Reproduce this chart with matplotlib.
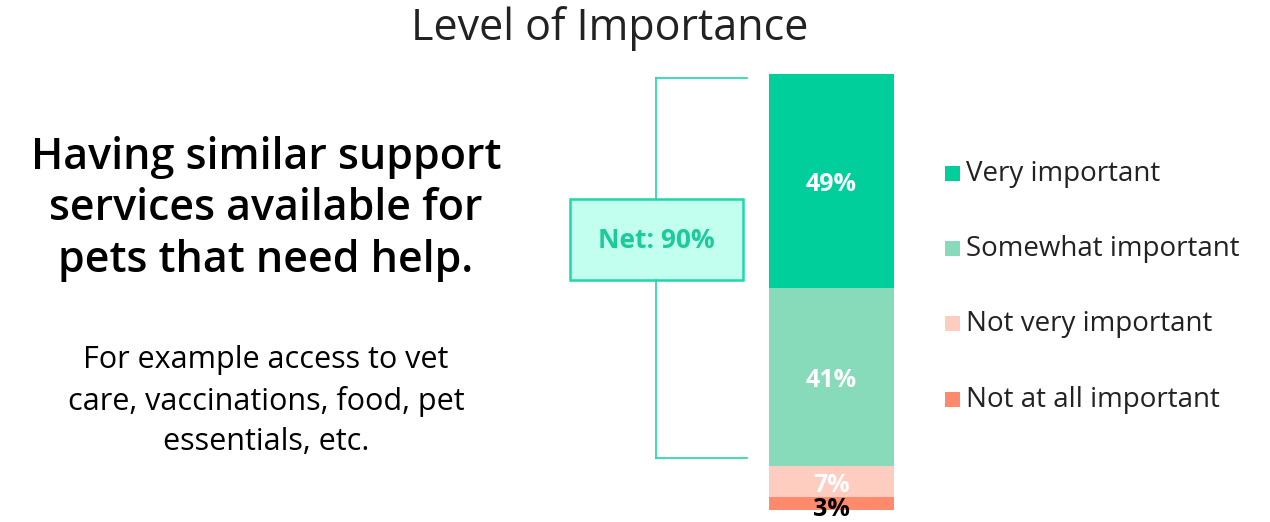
import matplotlib.pyplot as plt
from matplotlib.patches import Rectangle
from matplotlib.lines import Line2D

plt.rcParams['font.family'] = ['Open Sans', 'DejaVu Sans']

categories = ['Very important', 'Somewhat important', 'Not very important', 'Not at all important']
values = [49, 41, 7, 3]
colors = ['#00CF9B', '#88DBBA', '#FFCCC0', '#FF8A6B']
label_colors = ['white', 'white', 'white', 'black']
net_label = 'Net: 90%'

W, H = 1270, 522
fig = plt.figure(figsize=(W / 100, H / 100), dpi=100)

def fx(px):
    return px / W

def fy(py):
    return 1 - py / H

# stacked bar
ax = fig.add_axes([fx(769), fy(510), fx(894) - fx(769), fy(74) - fy(510)])
bottom = 0
for cat, v, c, lc in zip(categories, values, colors, label_colors):
    ax.bar(0.5, v, width=1, bottom=bottom, color=c, label=cat)
    yc = bottom + v / 2 + 0.8
    if lc == 'black':
        # label sits just under the thin segment
        yc = bottom + v - 0.2
    ax.text(0.5, yc, f'{v}%', ha='center', va='center', color=lc,
            fontsize=18, fontweight='bold', clip_on=False)
    bottom += v
ax.set_xlim(0, 1)
ax.set_ylim(100, 0)
ax.axis('off')

# title
fig.text(fx(610), fy(29), 'Level of Importance', ha='center', va='center',
         fontsize=31, color='#222222')

# left headline
fig.text(fx(266), fy(209), 'Having similar support\nservices available for\npets that need help.',
         ha='center', va='center', fontsize=31, fontweight='semibold',
         color='black', linespacing=1.25)
fig.text(fx(266), fy(401), 'For example access to vet\ncare, vaccinations, food, pet\nessentials, etc.',
         ha='center', va='center', fontsize=22, color='black', linespacing=1.45)

# bracket
bc = '#1ED8A8'
for xs, ys in [([656, 656], [78, 199]), ([656, 656], [280, 458]),
               ([656, 747], [78, 78]), ([656, 747], [458, 458])]:
    fig.add_artist(Line2D([fx(x) for x in xs], [fy(y) for y in ys], color=bc, lw=1.2))
fig.add_artist(Rectangle((fx(570), fy(280)), fx(743) - fx(570), fy(199) - fy(280),
                         transform=fig.transFigure, facecolor='#C3FFEE', edgecolor=bc, lw=1.8))
fig.text(fx(656), fy(240), net_label, ha='center', va='center', fontsize=19,
         fontweight='bold', color='#1CCB99')

# legend
leg_y = [174, 249, 324, 400]
for cat, c, y in zip(categories, colors, leg_y):
    fig.add_artist(Rectangle((fx(945), fy(y + 7)), fx(15), 15 / H,
                             transform=fig.transFigure, facecolor=c, edgecolor='none'))
    fig.text(fx(966), fy(y), cat, ha='left', va='center', fontsize=20, color='#222222')

fig.savefig('out.png', dpi=100)
